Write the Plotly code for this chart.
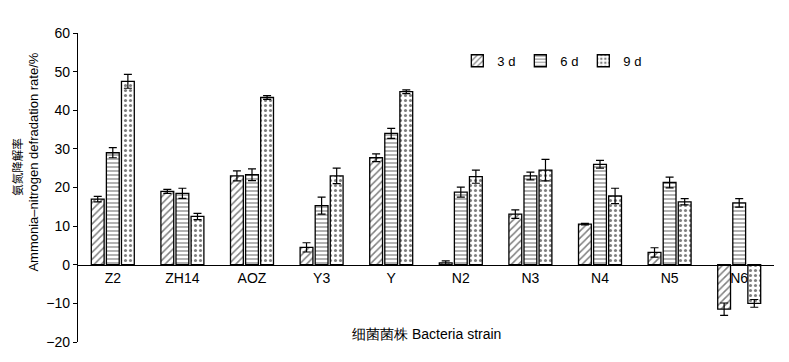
import plotly.graph_objects as go

strains = ["Z2", "ZH14", "AOZ", "Y3", "Y", "N2", "N3", "N4", "N5", "N6"]
d3 = [17.0, 19.0, 23.0, 4.5, 27.7, 0.5, 13.1, 10.5, 3.2, -11.5]
d3_err = [0.7, 0.5, 1.3, 1.2, 1.0, 0.5, 1.1, 0.2, 1.2, 1.6]
d6 = [29.0, 18.5, 23.3, 15.3, 34.0, 18.8, 23.0, 26.0, 21.3, 16.0]
d6_err = [1.3, 1.3, 1.5, 2.2, 1.3, 1.3, 1.0, 1.0, 1.4, 1.1]
d9 = [47.5, 12.5, 43.3, 23.0, 44.8, 22.8, 24.5, 17.8, 16.3, -10.0]
d9_err = [1.8, 0.8, 0.5, 2.0, 0.5, 1.7, 2.8, 2.0, 0.8, 1.0]

series = [("3 d", d3, d3_err, "/", 5), ("6 d", d6, d6_err, "-", 4), ("9 d", d9, d9_err, ".", 5)]

FONT = "Liberation Sans, Arial, sans-serif"

fig = go.Figure()
for name, vals, errs, shape, sz in series:
    fig.add_trace(go.Bar(
        x=strains, y=vals, name=name,
        marker=dict(color="white", line=dict(color="black", width=1.3),
                    pattern=dict(shape=shape, fgcolor="black", bgcolor="white", size=sz, solidity=0.3)),
        error_y=dict(type="data", array=errs, color="black", thickness=1.2, width=4),
    ))

fig.update_layout(
    width=789, height=362,
    margin=dict(l=78, r=15, t=33, b=18),
    plot_bgcolor="white", paper_bgcolor="white",
    barmode="group", bargap=0.35, bargroupgap=0.15,
    font=dict(family=FONT, size=14, color="black"),
    showlegend=True,
    legend=dict(orientation="h", x=0.545, y=0.91, xanchor="left", yanchor="middle",
                font=dict(size=13), itemwidth=30, entrywidth=18, tracegroupgap=0,
                bgcolor="rgba(0,0,0,0)"),
    xaxis=dict(anchor="free", position=0.25, showline=True, linecolor="black", linewidth=1.2,
               ticks="", showgrid=False, range=[-0.5, 9.5], tickfont=dict(size=14)),
    yaxis=dict(range=[-20, 60], dtick=10, showline=True, linecolor="black", linewidth=1.2,
               ticks="outside", ticklen=4, tickcolor="black", showgrid=False, zeroline=False,
               tickfont=dict(size=14)),
)

fig.add_annotation(text="氨氮降解率", xref="paper", yref="paper", x=-0.087, y=0.569,
                   showarrow=False, textangle=-90, font=dict(size=11.5, family="Noto Sans CJK SC"),
                   xanchor="center", yanchor="middle")
fig.add_annotation(text="Ammonia–nitrogen defradation rate/%", xref="paper", yref="paper", x=-0.064, y=0.582,
                   showarrow=False, textangle=-90, font=dict(size=13),
                   xanchor="center", yanchor="middle")
fig.add_annotation(text="细菌菌株 Bacteria strain", xref="paper", yref="paper", x=0.5, y=0.026,
                   showarrow=False, font=dict(size=14), xanchor="center", yanchor="middle")

fig.write_html("out.html")
